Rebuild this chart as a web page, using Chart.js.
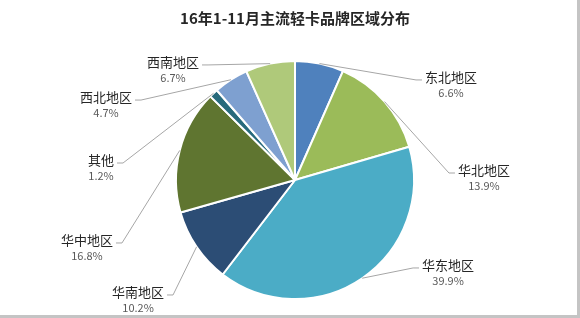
<!DOCTYPE html>
<html>
<head>
<meta charset="utf-8">
<script src="https://cdn.jsdelivr.net/npm/chart.js@4.4.0/dist/chart.umd.min.js"></script>
<style>
  html, body { margin: 0; padding: 0; background: #fff; }
  #wrap {
    width: 580px; height: 318px; box-sizing: border-box;
    border-right: 3px solid #c4c4c4; border-bottom: 3px solid #c4c4c4;
    position: relative;
  }
  #wrap canvas { display: block; }
</style>
</head>
<body>
<div id="wrap"><canvas id="pieChart" width="577" height="315"></canvas></div>
<script>
// data
const regions = ['东北地区', '华北地区', '华东地区', '华南地区', '华中地区', '其他', '西北地区', '西南地区'];
const shares = [6.6, 13.9, 39.9, 10.2, 16.8, 1.2, 4.7, 6.7];
const sliceColors = ['#4F81BD', '#9BBB59', '#4BACC6', '#2C4D75', '#5F7530', '#276A7C', '#7EA0D0', '#AFC97A'];

// where each label sits, relative to the pie centre in units of radius
const labelSpots = [
  [1.311, -0.866], [1.588, -0.084], [1.286, 0.714], [-1.319, 0.941],
  [-1.748, 0.504], [-1.630, -0.168], [-1.588, -0.697], [-1.025, -0.992]
];

const FONT = '"Noto Sans CJK SC", "Noto Sans", sans-serif';

// Outside labels with leader lines
const outerLabels = {
  id: 'outerLabels',
  afterDatasetsDraw(chart) {
    const ctx = chart.ctx;
    const meta = chart.getDatasetMeta(0);
    ctx.save();
    meta.data.forEach(function(arc, i) {
      const p = arc.getProps(['x', 'y', 'startAngle', 'endAngle', 'outerRadius'], true);
      const mid = (p.startAngle + p.endAngle) / 2;
      const ax = p.x + Math.cos(mid) * p.outerRadius;
      const ay = p.y + Math.sin(mid) * p.outerRadius;
      const lx = p.x + labelSpots[i][0] * p.outerRadius;
      const ly = p.y + labelSpots[i][1] * p.outerRadius;

      ctx.font = '13px ' + FONT;
      const nameW = ctx.measureText(regions[i]).width;
      const right = lx > p.x;
      const edge = right ? lx - nameW / 2 - 3 : lx + nameW / 2 + 3;
      const tail = right ? edge - 6 : edge + 6;

      ctx.strokeStyle = '#a6a6a6';
      ctx.lineWidth = 1;
      ctx.beginPath();
      ctx.moveTo(ax, ay);
      ctx.lineTo(tail, ly + 3);
      ctx.lineTo(edge, ly + 3);
      ctx.stroke();

      ctx.textAlign = 'center';
      ctx.textBaseline = 'middle';
      ctx.fillStyle = '#262626';
      ctx.fillText(regions[i], lx, ly);
      ctx.font = '11px ' + FONT;
      ctx.fillStyle = '#595959';
      ctx.fillText(shares[i].toFixed(1) + '%', lx, ly + 16);
    });
    ctx.restore();
  }
};

new Chart(document.getElementById('pieChart'), {
  type: 'pie',
  data: {
    labels: regions,
    datasets: [{
      data: shares,
      backgroundColor: sliceColors,
      borderColor: '#ffffff',
      borderWidth: 2
    }]
  },
  options: {
    responsive: false,
    animation: false,
    radius: 119,
    layout: { padding: { left: 13, right: 0, top: 0, bottom: 16 } },
    plugins: {
      legend: { display: false },
      tooltip: { enabled: false },
      title: {
        display: true,
        text: '16年1-11月主流轻卡品牌区域分布',
        color: '#262626',
        font: { family: FONT, size: 15, weight: 'bold' },
        padding: { top: 9, bottom: 34 }
      }
    }
  },
  plugins: [outerLabels]
});
</script>
</body>
</html>
